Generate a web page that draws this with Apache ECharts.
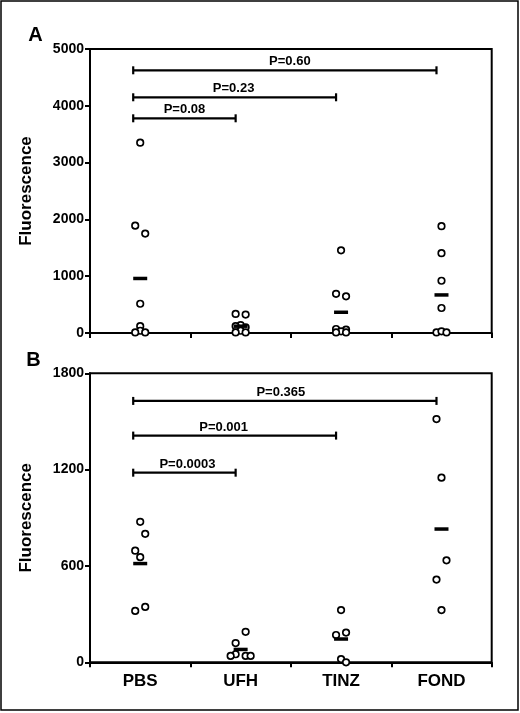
<!DOCTYPE html>
<html><head><meta charset="utf-8">
<script src="https://cdn.jsdelivr.net/npm/echarts@6/dist/echarts.min.js"></script>
<style>html,body{margin:0;padding:0;background:#fff}#c{width:520px;height:713px}</style>
</head><body><div id="c"></div>
<script>
// ---------- DATA ----------
const categories = ['PBS', 'UFH', 'TINZ', 'FOND'];
const yTicksA = [0, 1000, 2000, 3000, 4000, 5000];
const yTicksB = [0, 600, 1200, 1800];

// Panel A: individual values per group
const pbsA  = [3350, 1890, 1750, 515, 120, 40, 10, 10];
const ufhA  = [335, 325, 140, 120, 100, 40, 10, 10];
const tinzA = [1455, 690, 645, 70, 60, 30, 10, 10];
const fondA = [1880, 1405, 920, 440, 10, 30, 10];
const meansA = [960, 120, 365, 670];

// Panel B: individual values per group
const pbsB  = [875, 800, 695, 655, 320, 345];
const ufhB  = [190, 120, 50, 40, 40, 40];
const tinzB = [325, 185, 170, 20, 0];
const fondB = [1515, 1150, 635, 515, 325];
const meansB = [615, 80, 145, 830];

// Significance brackets (group indices and level)
const bracketLabelsA = ['P=0.60', 'P=0.23', 'P=0.08'];
const bracketFromA = [0, 0, 0];
const bracketToA = [3, 2, 1];
const bracketLevelsA = [4625, 4150, 3780];

const bracketLabelsB = ['P=0.365', 'P=0.001', 'P=0.0003'];
const bracketFromB = [0, 0, 0];
const bracketToB = [3, 2, 1];
const bracketLevelsB = [1628, 1412, 1181];

// ---------- LAYOUT / STYLE ----------
const FONT = '"Liberation Sans", Arial, Helvetica, sans-serif';
const JIT = 5; // px per jitter step
const jitterA = [
  [0, -1, 1, 0, 0, 0, -1, 1],
  [-1, 1, 0, -1, 1, 0, -1, 1],
  [0, -1, 1, -1, 1, 0, -1, 1],
  [0, 0, 0, 0, -1, 0, 1]
];
const jitterB = [
  [0, 1, -1, 0, -1, 1],
  [1, -1, -1, -2, 1, 2],
  [0, 1, -1, 0, 1],
  [-1, 0, 1, -1, 0]
];
const labelShiftA = [5, -1, 0];
const labelShiftB = [-4, -11, 3];

const groupsA = [pbsA, ufhA, tinzA, fondA];
const groupsB = [pbsB, ufhB, tinzB, fondB];

function pointData(groups, jitter) {
  const out = [];
  groups.forEach((vals, gi) => {
    vals.forEach((v, k) => {
      out.push({ value: [gi, v], symbolOffset: [jitter[gi][k] * JIT, 0] });
    });
  });
  return out;
}

function pointSeries(groups, jitter, xi, yi) {
  return {
    type: 'scatter', xAxisIndex: xi, yAxisIndex: yi, clip: false, z: 3, silent: true,
    symbol: 'circle', symbolSize: 6.5,
    itemStyle: { color: '#fff', borderColor: '#000', borderWidth: 1.7, opacity: 1 },
    data: pointData(groups, jitter)
  };
}

function meanSeries(means, xi, yi) {
  return {
    type: 'scatter', xAxisIndex: xi, yAxisIndex: yi, clip: false, z: 4, silent: true,
    symbol: 'rect', symbolSize: [14, 3.5],
    itemStyle: { color: '#000', opacity: 1 },
    data: means.map((m, i) => [i, m])
  };
}

function bracketSeries(from, to, levels, labels, shifts, xi, yi) {
  return {
    type: 'custom', xAxisIndex: xi, yAxisIndex: yi, silent: true, z: 5, clip: false,
    data: levels.map((y, i) => [from[i], to[i], y, i]),
    encode: { x: [0, 1], y: 2 },
    renderItem: function (params, api) {
      const i = api.value(3);
      const p1 = api.coord([api.value(0), api.value(2)]);
      const p2 = api.coord([api.value(1), api.value(2)]);
      const x1 = p1[0] - 7, x2 = p2[0] - 5, y = p1[1];
      return {
        type: 'group',
        children: [
          { type: 'line', shape: { x1: x1, y1: y, x2: x2, y2: y }, style: { stroke: '#000', lineWidth: 2.2 } },
          { type: 'line', shape: { x1: x1, y1: y - 4, x2: x1, y2: y + 4 }, style: { stroke: '#000', lineWidth: 2.2 } },
          { type: 'line', shape: { x1: x2, y1: y - 4, x2: x2, y2: y + 4 }, style: { stroke: '#000', lineWidth: 2.2 } },
          { type: 'text', x: (x1 + x2) / 2 + shifts[i], y: y - 8.5,
            style: { text: labels[i], fill: '#000', fontSize: 13, fontWeight: 'bold',
                     fontFamily: FONT, align: 'center', verticalAlign: 'middle' } }
        ]
      };
    }
  };
}

const axisLineStyle = { color: '#000', width: 2 };

function catAxis(gridIndex, showLabels) {
  return {
    type: 'category', gridIndex: gridIndex, data: categories, boundaryGap: true,
    axisLine: { onZero: false, lineStyle: axisLineStyle },
    axisTick: { show: true, inside: false, length: 5, lineStyle: { color: '#000', width: 2 } },
    axisLabel: { show: showLabels, color: '#000', fontSize: 17, fontWeight: 'bold', fontFamily: FONT, margin: 11 },
    splitLine: { show: false }
  };
}
function hiddenValAxis(gridIndex) {
  return { type: 'value', gridIndex: gridIndex, min: -0.5, max: 3.5, show: false,
           axisLine: { show: false, onZero: false }, axisTick: { show: false }, axisLabel: { show: false }, splitLine: { show: false } };
}
function valAxis(gridIndex, ticks) {
  return {
    type: 'value', gridIndex: gridIndex, min: ticks[0], max: ticks[ticks.length - 1],
    interval: ticks[1] - ticks[0],
    name: 'Fluorescence', nameLocation: 'middle', nameRotate: 90, nameGap: 55,
    nameTextStyle: { color: '#000', fontSize: 17, fontWeight: 'bold', fontFamily: FONT },
    axisLine: { show: true, onZero: false, lineStyle: axisLineStyle },
    axisTick: { show: true, inside: false, length: 5, lineStyle: { color: '#000', width: 2 } },
    axisLabel: { color: '#000', fontSize: 14, fontWeight: 'bold', fontFamily: FONT, margin: 6,
                 formatter: function (v) { return String(v); } },
    splitLine: { show: false }
  };
}

const chart = echarts.init(document.getElementById('c'), null, { renderer: 'canvas' });
chart.setOption({
  animation: false,
  backgroundColor: '#fff',
  grid: [
    { left: 90, top: 49, width: 401.7, height: 284, show: true, borderColor: '#000', borderWidth: 2, backgroundColor: 'transparent' },
    { left: 90, top: 373.3, width: 401.7, height: 289, show: true, borderColor: '#000', borderWidth: 2, backgroundColor: 'transparent' }
  ],
  xAxis: [catAxis(0, false), hiddenValAxis(0), catAxis(1, true), hiddenValAxis(1)],
  yAxis: [valAxis(0, yTicksA), valAxis(1, yTicksB)],
  graphic: [
    { type: 'rect', shape: { x: 1, y: 1, width: 517, height: 709 }, style: { fill: 'none', stroke: '#000', lineWidth: 1.5 }, silent: true },
    { type: 'text', x: 35.5, y: 35, style: { text: 'A', fill: '#000', fontSize: 20, fontWeight: 'bold', fontFamily: FONT, align: 'center', verticalAlign: 'middle' } },
    { type: 'text', x: 33.5, y: 360, style: { text: 'B', fill: '#000', fontSize: 20, fontWeight: 'bold', fontFamily: FONT, align: 'center', verticalAlign: 'middle' } }
  ],
  series: [
    pointSeries(groupsA, jitterA, 0, 0),
    meanSeries(meansA, 0, 0),
    bracketSeries(bracketFromA, bracketToA, bracketLevelsA, bracketLabelsA, labelShiftA, 1, 0),
    pointSeries(groupsB, jitterB, 2, 1),
    meanSeries(meansB, 2, 1),
    bracketSeries(bracketFromB, bracketToB, bracketLevelsB, bracketLabelsB, labelShiftB, 3, 1)
  ]
});
</script>
</body></html>
